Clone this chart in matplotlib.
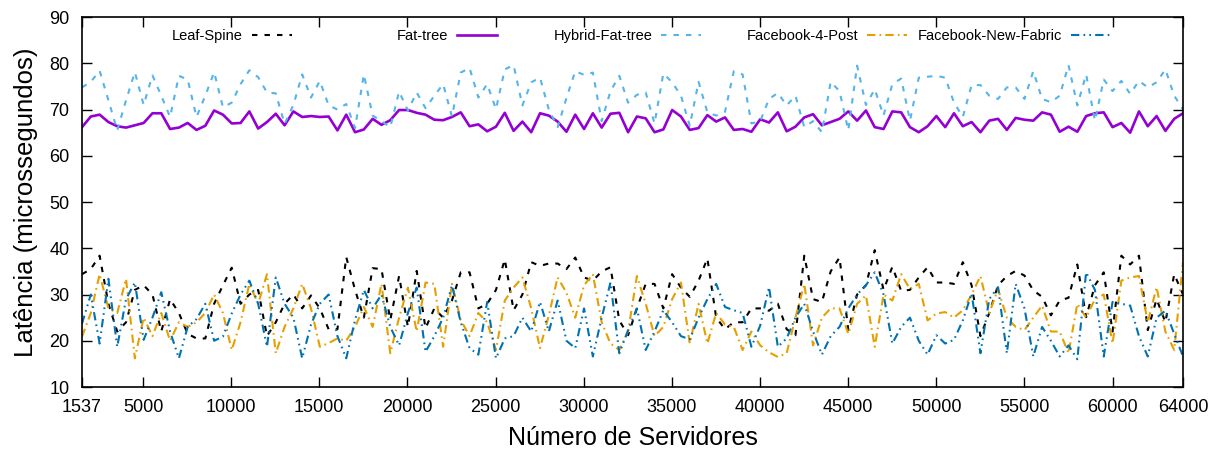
import matplotlib
matplotlib.use("Agg")
import matplotlib.pyplot as plt
import numpy as np

plt.rcParams["font.family"] = ["Liberation Sans", "DejaVu Sans"]

# latency (microseconds) sampled along the server count axis
leaf_spine = [
    34.4, 35.5, 38.4, 28, 22, 24, 31, 32, 30, 22, 29, 26, 21.5, 20.5, 20.5, 28, 32, 35.8, 28, 30,
    31, 21, 24, 28, 30, 27, 29.8, 27, 22.5, 22.5, 38.1, 31, 25, 35.7, 35.5, 24.5, 34, 23, 35.1, 22.7,
    27, 25, 28.7,
    34.8, 34.8, 27, 28, 31, 37.6, 26.6, 30, 37, 36.2, 36.7, 36.7, 35.5, 38, 33.7, 33, 35, 35.9,
    24.4, 21.2, 27, 32.3, 32.3, 27, 34.4, 31.5, 29.5, 33, 37.8, 25, 22.5, 24, 24, 27, 27, 26.5,
    28, 22.5, 21.2, 38.4, 29,
    28.4, 35, 38, 22.3, 30, 32, 39.6, 31, 36, 30.8, 31, 33.7, 35.9, 32.6, 32.6, 32.3, 37, 32,
    21, 26, 32, 34, 35.1, 34.1, 30.9, 29.5, 25.5, 28.7, 29.3, 36.5, 25.1, 32, 34.8, 22, 38.4,
    36.5, 38.4, 22.3, 29, 24, 34.4, 30,
]
fat_tree = [
    66.2, 68.5, 68.9, 67.3, 66.4, 66.1, 66.6, 67.1, 69.2, 69.2, 65.8, 66.1, 67.1, 65.6, 66.5,
    69.8, 68.9, 67.0, 67.1, 69.6, 65.9, 67.3, 69.1, 66.6, 69.6, 68.4, 68.6, 68.4, 68.5, 65.5,
    68.9, 65.1, 65.7, 68.0, 66.7, 67.7, 69.9, 69.9, 69.3, 68.9, 67.8, 67.7, 68.4,
    69.4, 66.4, 66.8, 65.3, 66.3, 69.3, 65.4, 67.4, 65.1, 69.2, 68.7, 67.4, 65.2, 68.9, 65.8,
    69.2, 66.1, 69.1, 69.3, 65.1, 68.5, 68.1, 65.1, 65.7, 69.9, 68.5, 65.6, 66.0, 68.8, 67.4,
    68.3, 65.6, 65.8, 65.2, 67.9, 67.2, 69.4, 65.3, 66.3, 68.3, 69.0,
    66.6, 67.3, 68.0, 69.6, 67.6, 69.8, 66.2, 65.8, 69.6, 69.4, 66.2, 65.1, 66.4, 68.6, 66.2,
    69.2, 66.4, 67.3, 65.1, 67.6, 68.0, 65.6, 68.2, 67.8, 67.6, 69.4, 68.9, 65.2, 66.3, 65.2,
    68.6, 69.2, 69.4, 66.2, 67.1, 65.0, 69.6, 66.4, 68.6, 65.4, 68.0, 69.2,
]
hybrid_fat_tree = [
    74.8, 76, 78.4, 72, 65.5, 72, 78.1, 71, 77.4, 73, 68.4, 77.3, 76.5, 68.4, 73, 78.1, 70.5,
    71.5, 75.5, 78.5, 77, 73.7, 73.5, 66.9, 71, 77.6, 72.6, 76.2, 70.9, 70, 71.2, 66, 77.6,
    68.7, 67.5, 66.2, 73.9, 69.8, 73.7, 70.3, 73, 75.5, 68.5,
    78, 79, 72.6, 75.5, 70.1, 78.7, 79.6, 70.9, 75.9, 76.9, 70, 66.2, 72.5, 78.3, 77.5, 78,
    67.5, 74, 77.3, 71.5, 73.2, 73.7, 67, 77.8, 75.9, 73, 66.5, 76, 69.4, 68.7, 69.5, 78.3,
    77.6, 67, 67.5, 72.3, 73.6, 70.9, 73, 66.2, 67.5,
    65.1, 76, 74, 65.5, 79.5, 71, 74.4, 68.7, 75.5, 76.7, 67.6, 76.9, 77.1, 77.3, 76.9, 71.5,
    68.4, 75.3, 75.3, 73, 72.3, 74.8, 74.8, 72.3, 78.3, 72.3, 71.6, 73, 79.6, 70.9, 77.6, 67.6,
    76.5, 74, 76.2, 73.4, 76.2, 74.8, 75.9, 78.7, 73, 70,
]
facebook_4_post = [
    20.9, 26, 34.4, 27, 26, 33.4, 16.2, 25, 21, 26, 20, 24, 23, 24, 26, 30, 26, 18, 24, 32.3,
    28, 34.4, 17.3, 23, 27, 32.3, 27, 18.7, 19.5, 20.5, 20, 23, 27.3, 23, 32.3, 17.3, 25, 31.5,
    22, 32.6, 32.3, 18.7, 32.3,
    24.5, 21, 26, 24, 18, 28.7, 31.5, 33.7, 27, 18.4, 25.5, 33.7, 30.4, 25, 32, 34.4, 24, 19.4,
    18, 22, 34, 28, 21, 23, 29, 32.6, 19.4, 28, 19.4, 26, 23.5, 23, 18, 22, 19, 17.5, 16.5, 17.3,
    25, 32.3, 19,
    25, 27, 27, 21.5, 28, 29.8, 18.7, 30, 28.7, 34.4, 31.2, 32.3, 24.4, 25.9, 26.2, 25, 26.6,
    30, 34, 26, 31.2, 25, 23, 22.3, 25, 27.6, 22, 22, 17.3, 28, 25, 29, 30, 19.4, 33, 33.7, 34,
    24, 31.6, 22, 18, 37,
]
facebook_new_fabric = [
    23.7, 30, 19.4, 33.4, 18.7, 29, 32.6, 20.2, 25, 30.5, 22, 16.2, 23, 24.7, 28, 20, 20.9,
    25.9, 30, 33, 28, 18.7, 33.7, 28, 25, 16.2, 23.5, 28, 30, 21, 16.2, 24.5, 31, 27, 30, 23, 19,
    26, 31.5, 17.6, 21, 25, 32,
    24, 18.4, 17, 28.4, 16.2, 20.5, 21, 25, 22, 28.4, 22, 28.7, 20, 18.4, 27, 16.6, 25, 32.6,
    17.3, 22.3, 27, 18, 22, 26.6, 24, 21, 20.3, 25, 29, 32.3, 27.3, 26.6, 26, 18.7, 23.3, 31.6,
    18.7, 20.5, 25, 28, 22,
    17, 21, 23, 27, 30, 32, 34.8, 30, 19.4, 23, 25, 20, 17, 21.2, 19.4, 20.2, 24.4, 30.2, 17.3,
    29, 31.6, 17.3, 32.3, 27, 16.6, 23, 20, 16.6, 19, 16, 34.8, 31, 16.6, 28.4, 28, 27.6, 21,
    16.6, 25, 26.5, 21.5, 16.6,
]
servers = np.linspace(1537, 64000, len(fat_tree))

x_ticks = [1537, 5000, 10000, 15000, 20000, 25000, 30000, 35000, 40000, 45000, 50000,
           55000, 60000, 64000]

fig = plt.figure(figsize=(12.22, 4.5), dpi=100)
ax = fig.add_axes([0.0671, 0.14, 0.9010, 0.822])

lines = []
lines += ax.plot(servers, leaf_spine, color="black", lw=1.5, dashes=(2.6, 3.4),
                 label="Leaf-Spine")
lines += ax.plot(servers, fat_tree, color="#9400D3", lw=1.9, label="Fat-tree")
lines += ax.plot(servers, hybrid_fat_tree, color="#56B4E9", lw=1.5, dashes=(2.6, 3.4),
                 label="Hybrid-Fat-tree")
lines += ax.plot(servers, facebook_4_post, color="#E69F00", lw=1.5, dashes=(4, 2, 0.8, 2),
                 label="Facebook-4-Post")
lines += ax.plot(servers, facebook_new_fabric, color="#0072B2", lw=1.5,
                 dashes=(4, 2, 0.8, 2, 0.8, 2), label="Facebook-New-Fabric")

ax.set_xlim(1537, 64000)
ax.set_ylim(10, 90)
ax.set_xticks(x_ticks)
ax.set_yticks(range(10, 91, 10))
ax.tick_params(direction="in", length=7, top=True, right=True, labelsize=13, width=1)
ax.tick_params(axis="x", pad=9)
ax.tick_params(axis="y", pad=9)
for side in ax.spines.values():
    side.set_linewidth(1.2)

ax.set_xlabel("Número de Servidores", fontsize=18, labelpad=7)
ax.set_ylabel("Latência (microssegundos)", fontsize=18.5, labelpad=8)

# gnuplot-style key: equal-width columns, label then sample
key_right = [0.1907, 0.3769, 0.5622, 0.7493, 0.9346]
for i, (ln, xr) in enumerate(zip(lines, key_right)):
    leg = ax.legend([ln], [ln.get_label()], loc="center right", bbox_to_anchor=(xr, 0.9486),
                    frameon=False, markerfirst=False, fontsize=10.5, handlelength=2.75,
                    handletextpad=0.6, borderpad=0, borderaxespad=0)
    if i < len(lines) - 1:
        ax.add_artist(leg)

fig.savefig("out.png", dpi=100)
